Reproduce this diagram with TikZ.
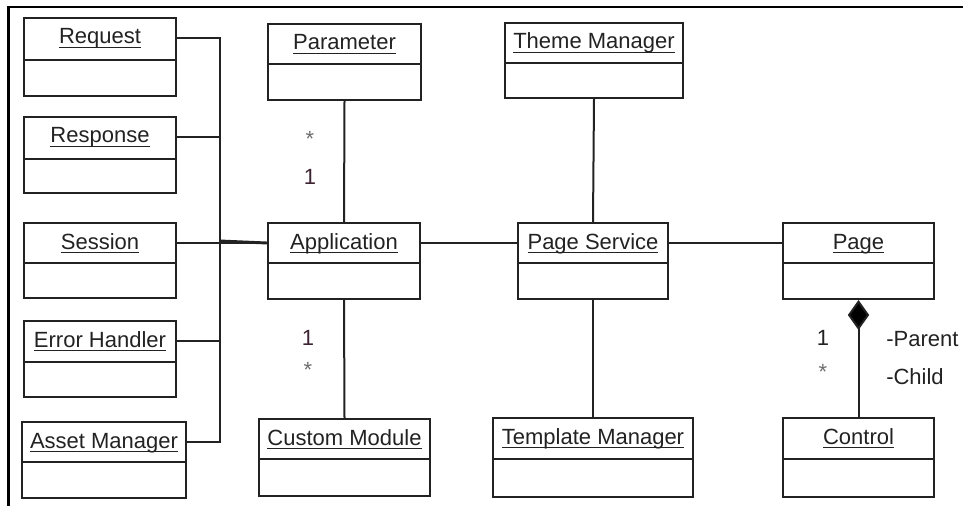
\documentclass[tikz,border=0pt]{standalone}
\usepackage{fontspec}
\setmainfont{Liberation Sans}
\usetikzlibrary{fit,arrows.meta}
\definecolor{ink}{HTML}{222222}
\definecolor{multred}{HTML}{3E2433}
\definecolor{stargray}{HTML}{6E6E6E}
% underlined class name with a heavier rule
\newcommand\clsname[1]{\setbox0\hbox{#1}\rlap{\rule[-3pt]{\wd0}{1.1pt}}\box0}
\tikzset{
  classbox/.style={draw=ink, line width=1.5pt, inner sep=0pt, rectangle},
  classline/.style={draw=ink, line width=1.5pt},
  title/.style={inner sep=0pt, anchor=base, text height=12pt, text depth=3pt,
    font=\fontsize{16.5}{19}\selectfont, text=ink},
  assoc/.style={draw=ink, line width=1.5pt},
  mult/.style={inner sep=0pt, font=\fontsize{16.5}{19}\selectfont},
  role/.style={inner sep=0pt, anchor=west, font=\fontsize{16.5}{19}\selectfont, text=ink},
}
% #1 name, #2 x1, #3 y1, #4 x2, #5 y2, #6 divider y, #7 class name
\newcommand\umlclass[7]{%
  \node[classbox, fit={(#2,#3) (#4,#5)}] (#1) {};
  \draw[classline] (#2,#6) -- (#4,#6);
  \node[title] (#1t) at ({(#2+#4)/2},#3+26) {\clsname{#7}};
}
\begin{document}
\begin{tikzpicture}[x=0.75pt, y=-0.75pt]
\useasboundingbox (0,0) rectangle (963,506);
% outer frame (top and left edges)
\draw[line width=2pt, black] (8.5,506) -- (8.5,7) -- (963,7);

% left column
\umlclass{req}{24}{18}{176}{96}{60}{Request}
\umlclass{resp}{24}{117}{176}{193}{159}{Response}
\umlclass{sess}{24}{223}{176}{298}{263}{Session}
\umlclass{err}{24}{321}{176}{397}{362}{Error Handler}
\umlclass{asset}{22}{422}{186}{498}{462}{Asset Manager}
% second column
\umlclass{param}{268}{24}{421}{100}{64}{Parameter}
\umlclass{app}{268}{223}{420}{299}{263}{Application}
\umlclass{cust}{259}{419}{430}{496}{459}{Custom Module}
% third column
\umlclass{theme}{505}{23}{683}{98}{63}{Theme Manager}
\umlclass{ps}{518}{223}{668}{299}{263}{Page Service}
\umlclass{tmpl}{493}{418}{693}{497}{459}{Template Manager}
% fourth column
\umlclass{page}{783}{223}{934}{299}{263}{Page}
\umlclass{ctrl}{783}{418}{934}{497}{459}{Control}

% bus joining the left column to Application
\coordinate (bus) at (220,241);
\draw[assoc] (req.east |- reqt) -| (bus);
\draw[assoc] (resp.east |- respt) -| (bus);
\draw[assoc] (err.east |- errt) -| (bus);
\draw[assoc] (asset.east |- assett) -| (bus);
\draw[assoc] (sess.east |- sesst) -- (app.west |- appt);
\draw[assoc, line width=2.2pt] (bus) -- (app.west |- appt);

% associations
\draw[assoc] (param.south) -- (app.north);
\draw[assoc] (app.south) -- (cust.north);
\draw[assoc] (app.east |- appt) -- (ps.west |- pst);
\draw[assoc] (ps.east |- pst) -- (page.west |- paget);
\draw[assoc] (theme.south) -- (ps.north);
\draw[assoc] (ps.south) -- (tmpl.north);
% composition Page <>-- Control
\draw[assoc, {Diamond[length=22.5pt, width=16pt, fill=black]}-] (page.south) -- (ctrl.north);

% multiplicities and roles
\node[mult, text=stargray] (m1) at (310,139) {*};
\node[mult, text=multred] (m2) at (310,177) {1};
\node[mult, text=multred] (m3) at (308,338) {1};
\node[mult, text=stargray] (m4) at (308,370) {*};
\node[mult, text=ink] (m5) at (823,338) {1};
\node[mult, text=stargray] (m6) at (823,372) {*};
\node[role] (r1) at (886,339) {-Parent};
\node[role] (r2) at (886,377) {-Child};
\end{tikzpicture}
\end{document}
